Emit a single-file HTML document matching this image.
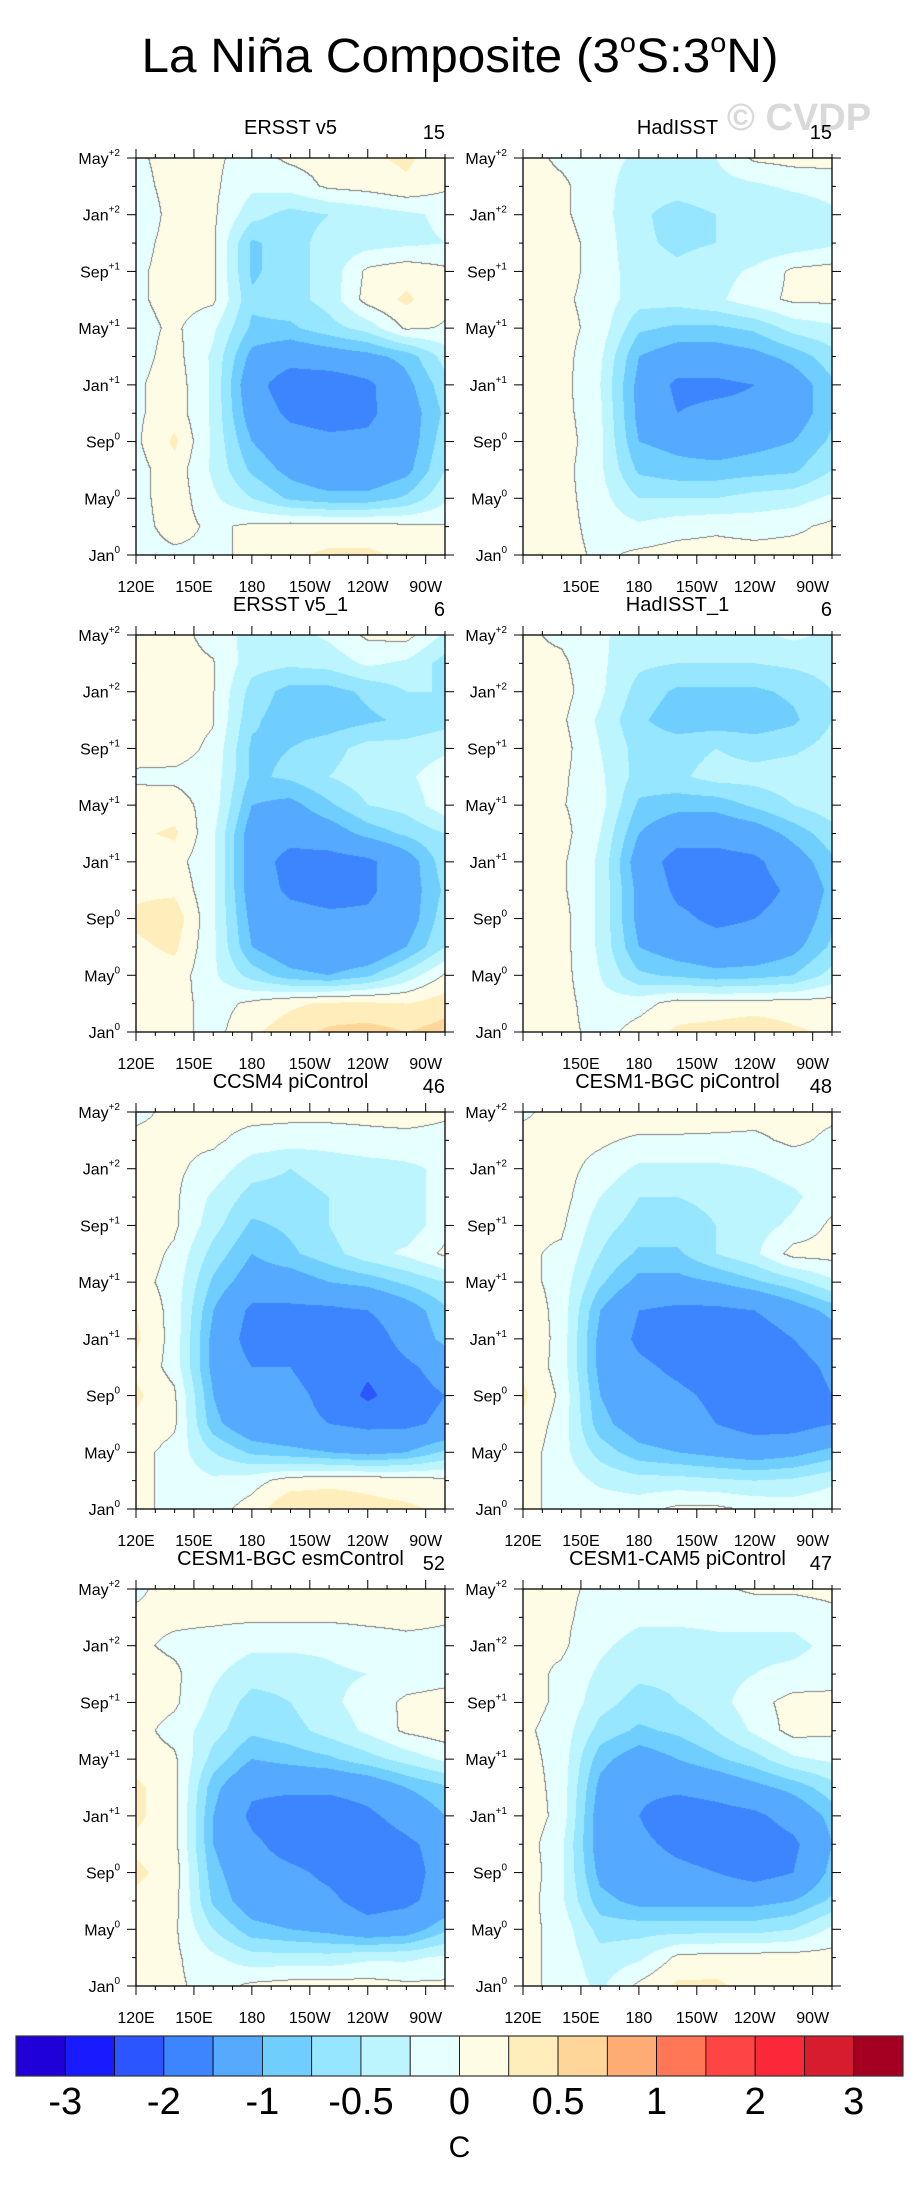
<!DOCTYPE html>
<html><head><meta charset="utf-8">
<style>
html,body{margin:0;padding:0;background:#fff;}
#wrap{position:relative;width:918px;height:2186px;overflow:hidden;font-family:"Liberation Sans",sans-serif;}
canvas{position:absolute;}
svg{position:absolute;left:0;top:0;}
</style></head>
<body>
<div id="wrap">
<svg id="svg" width="918" height="2186">
<text x="460" y="72" font-size="48" text-anchor="middle" textLength="637" lengthAdjust="spacingAndGlyphs" fill="#000">La Niña Composite (3<tspan font-size="28" dy="-20">o</tspan><tspan dy="20">S:3</tspan><tspan font-size="28" dy="-20">o</tspan><tspan dy="20">N)</tspan></text>
<text x="799" y="130" font-size="38" font-weight="bold" text-anchor="middle" fill="#d9d9d9">© CVDP</text>
</svg>
</div>
<script>
// ---- Data: rows = months 0,2,...,28 (Jan0 .. May+2); columns = lon 120,140,...,280 ----
const lons = [120,140,160,180,200,220,240,260,280];
const months = [0,2,4,6,8,10,12,14,16,18,20,22,24,26,28];
const levels = [-3,-2.5,-2,-1.5,-1,-0.75,-0.5,-0.25,0,0.25,0.5,0.75,1,1.5,2,2.5,3];
const levelLabels = ["-3","-2","-1","-0.5","0","0.5","1","2","3"];
const palette = ["#2000d8","#1a1aff","#2a55ff","#3d85ff","#55aaff","#70ceff","#96e6ff","#bdf5ff","#e6ffff","#fffce6","#ffeebb","#ffd699","#ffab73","#ff7755","#ff4444","#fa2838","#d81c30","#a50021"];
const titles = ["ERSST v5","HadISST","ERSST v5_1","HadISST_1","CCSM4 piControl","CESM1-BGC piControl","CESM1-BGC esmControl","CESM1-CAM5 piControl"];
const counts = ["15","15","6","6","46","48","52","47"];
const yLabels = [["Jan","0"],["May","0"],["Sep","0"],["Jan","+1"],["May","+1"],["Sep","+1"],["Jan","+2"],["May","+2"]];
const xTickLons = [120,150,180,210,240,270];
const xTickLabels = ["120E","150E","180","150W","120W","90W"];

const ersst = [
[-0.1,-0.05,-0.05,0.05,0.2,0.3,0.3,0.2,0.2],
[-0.1,0.1,-0.05,0.05,0.1,0.1,0.1,0.05,0.02],
[-0.1,0.15,-0.2,-0.5,-0.8,-0.9,-0.9,-0.7,-0.3],
[-0.1,0.15,-0.3,-0.8,-1.1,-1.3,-1.3,-1.1,-0.5],
[-0.05,0.3,-0.3,-1.0,-1.3,-1.4,-1.4,-1.2,-0.6],
[-0.05,0.15,-0.3,-1.2,-1.6,-1.7,-1.6,-1.2,-0.7],
[-0.05,0.15,-0.3,-1.3,-1.8,-1.8,-1.6,-1.1,-0.6],
[-0.1,0.1,-0.3,-1.1,-1.3,-1.2,-1.1,-0.9,-0.4],
[-0.1,0.05,-0.2,-0.8,-0.8,-0.6,-0.4,0.05,-0.02],
[-0.05,0.1,0.05,-0.7,-0.6,-0.4,0.1,0.3,0.05],
[-0.05,0.1,0.05,-0.8,-0.6,-0.4,0.05,0.15,0.05],
[-0.1,0.1,0.05,-0.8,-0.6,-0.4,-0.35,-0.3,-0.25],
[-0.2,0.1,0.05,-0.4,-0.6,-0.5,-0.4,-0.3,-0.2],
[-0.1,0.1,0.05,-0.2,-0.15,0.05,0.1,0.2,0.05],
[-0.05,0.1,0.05,-0.1,0.05,0.1,0.2,0.3,0.1]];
const hadisst = [
[0.1,0.1,-0.05,0.05,0.1,0.1,0.1,0.1,0.1],
[0.1,0.1,-0.1,-0.2,-0.1,-0.05,-0.1,-0.05,0.05],
[0.1,0.1,-0.15,-0.5,-0.5,-0.5,-0.4,-0.35,-0.2],
[0.1,0.1,-0.2,-0.8,-0.9,-0.9,-0.85,-0.8,-0.5],
[0.2,0.15,-0.2,-1.0,-1.1,-1.2,-1.1,-1.0,-0.7],
[0.1,0.1,-0.2,-1.1,-1.5,-1.4,-1.4,-1.2,-0.8],
[0.1,0.1,-0.25,-1.1,-1.6,-1.6,-1.5,-1.2,-0.8],
[0.1,0.1,-0.2,-1.0,-1.2,-1.2,-1.1,-0.9,-0.6],
[0.05,0.1,-0.1,-0.7,-0.8,-0.8,-0.7,-0.4,-0.3],
[0.1,0.05,-0.1,-0.4,-0.4,-0.3,-0.1,0.05,0.05],
[0.1,0.1,-0.1,-0.4,-0.45,-0.35,-0.2,0.05,0.1],
[0.1,0.1,-0.1,-0.45,-0.55,-0.5,-0.45,-0.4,-0.3],
[0.1,0.05,-0.15,-0.45,-0.6,-0.5,-0.5,-0.45,-0.3],
[0.1,0.05,-0.15,-0.4,-0.4,-0.35,-0.3,-0.2,-0.15],
[0.1,-0.05,-0.15,-0.3,-0.35,-0.25,0.05,0.1,0.1]];
const ersst1 = [
[0.2,0.1,-0.1,0.2,0.4,0.55,0.6,0.5,0.6],
[0.15,0.1,-0.1,0.05,0.2,0.3,0.3,0.25,0.4],
[0.1,0.15,-0.2,-0.6,-0.9,-1.0,-0.8,-0.4,0.02],
[0.2,0.3,-0.2,-1.0,-1.3,-1.4,-1.4,-1.0,-0.5],
[0.3,0.4,-0.2,-1.1,-1.3,-1.4,-1.4,-1.2,-0.6],
[0.2,0.2,-0.2,-1.2,-1.6,-1.7,-1.6,-1.2,-0.7],
[0.05,0.1,-0.2,-1.2,-1.7,-1.7,-1.6,-1.2,-0.6],
[0.2,0.3,-0.2,-1.2,-1.3,-1.2,-0.9,-0.7,-0.5],
[0.05,0.1,-0.1,-1.0,-1.1,-0.8,-0.5,-0.4,-0.1],
[-0.02,-0.05,-0.1,-0.8,-0.7,-0.5,-0.35,-0.3,-0.1],
[0.05,0.1,-0.05,-0.8,-0.75,-0.6,-0.4,-0.4,-0.3],
[0.05,0.1,0.02,-0.7,-0.9,-0.9,-0.8,-0.7,-0.6],
[0.02,0.2,0.02,-0.6,-0.85,-0.85,-0.7,-0.5,-0.5],
[0.02,0.1,0.02,-0.4,-0.45,-0.4,-0.2,-0.3,-0.6],
[0.05,0.1,-0.1,-0.35,-0.35,-0.2,0.05,0.1,-0.3]];
const hadisst1 = [
[0.1,0.1,-0.1,0.1,0.3,0.35,0.45,0.3,0.2],
[0.05,0.1,-0.15,-0.1,0.1,0.1,0.1,0.1,0.1],
[0.1,0.1,-0.25,-0.7,-0.8,-0.9,-0.85,-0.75,-0.4],
[0.1,0.1,-0.3,-1.0,-1.2,-1.3,-1.3,-1.1,-0.7],
[0.2,0.1,-0.3,-1.1,-1.4,-1.6,-1.5,-1.3,-0.8],
[0.1,0.05,-0.3,-1.1,-1.6,-1.7,-1.7,-1.4,-0.9],
[0.1,0.05,-0.3,-1.2,-1.7,-1.7,-1.6,-1.2,-0.8],
[0.1,0.1,-0.25,-1.0,-1.3,-1.3,-1.2,-0.9,-0.6],
[0.05,0.02,-0.15,-0.8,-0.9,-0.9,-0.7,-0.5,-0.35],
[0.05,0.05,-0.2,-0.6,-0.55,-0.4,-0.4,-0.35,-0.3],
[0.05,0.1,-0.25,-0.6,-0.6,-0.5,-0.6,-0.55,-0.4],
[0.1,0.05,-0.3,-0.7,-0.9,-0.9,-0.9,-0.8,-0.5],
[0.15,0.1,-0.2,-0.6,-0.8,-0.8,-0.8,-0.7,-0.5],
[0.05,0.05,-0.2,-0.45,-0.5,-0.5,-0.5,-0.45,-0.4],
[0.05,-0.05,-0.2,-0.4,-0.4,-0.35,-0.3,-0.2,-0.3]];
const ccsm4 = [
[0.1,-0.1,-0.1,0.1,0.5,0.5,0.35,0.3,0.2],
[0.1,-0.1,-0.2,-0.1,0.1,0.15,0.15,0.1,0.05],
[0.1,-0.1,-0.5,-0.8,-0.9,-1.0,-1.1,-1.0,-0.7],
[0.2,0.05,-0.9,-1.3,-1.4,-1.5,-1.6,-1.6,-1.4],
[0.3,0.05,-1.0,-1.5,-1.4,-1.6,-2.1,-1.7,-1.5],
[0.2,-0.1,-1.1,-1.5,-1.5,-1.7,-1.9,-1.6,-1.3],
[0.3,-0.1,-1.1,-1.7,-2.0,-2.0,-1.8,-1.3,-0.9],
[0.25,-0.1,-1.0,-1.6,-1.6,-1.6,-1.5,-1.2,-0.8],
[0.1,-0.1,-0.8,-1.2,-1.2,-1.0,-0.9,-0.7,-0.5],
[0.15,-0.05,-0.6,-1.0,-0.8,-0.6,-0.35,-0.2,0.05],
[0.15,0.05,-0.4,-0.8,-0.7,-0.5,-0.25,-0.4,-0.1],
[0.1,0.05,-0.3,-0.6,-0.6,-0.5,-0.4,-0.3,-0.2],
[0.05,0.05,-0.1,-0.4,-0.5,-0.4,-0.35,-0.3,-0.2],
[0.05,0.05,0.05,-0.1,-0.15,-0.15,-0.1,-0.1,-0.1],
[-0.05,0.05,0.1,0.1,0.1,0.1,0.1,0.15,0.05]];
const cesmBgcPi = [
[0.1,-0.1,-0.1,-0.1,0.05,0.05,-0.05,-0.1,-0.05],
[0.1,-0.1,-0.3,-0.4,-0.4,-0.45,-0.5,-0.45,-0.3],
[0.15,-0.15,-0.6,-0.9,-1.0,-1.1,-1.2,-1.1,-0.9],
[0.2,-0.1,-0.9,-1.2,-1.3,-1.5,-1.7,-1.7,-1.5],
[0.3,-0.05,-1.0,-1.3,-1.4,-1.6,-1.8,-1.8,-1.5],
[0.2,-0.1,-1.1,-1.4,-1.6,-1.8,-1.9,-1.7,-1.4],
[0.25,-0.1,-1.1,-1.6,-1.8,-1.9,-1.8,-1.5,-1.2],
[0.2,-0.1,-1.0,-1.5,-1.6,-1.6,-1.5,-1.2,-0.9],
[0.1,-0.1,-0.7,-1.1,-1.1,-1.0,-0.8,-0.6,-0.3],
[0.05,-0.05,-0.5,-0.8,-0.8,-0.5,-0.3,0.1,0.1],
[0.05,0.05,-0.4,-0.6,-0.6,-0.5,-0.35,-0.2,0.05],
[0.1,0.1,-0.25,-0.5,-0.5,-0.45,-0.4,-0.3,-0.1],
[0.1,0.1,-0.1,-0.3,-0.3,-0.3,-0.25,-0.15,-0.1],
[0.1,0.1,0.05,-0.05,-0.05,-0.05,-0.05,0.05,-0.05],
[-0.05,0.1,0.2,0.2,0.2,0.15,0.1,0.1,0.05]];
const cesmBgcEsm = [
[0.1,0.05,-0.1,0.05,0.1,0.1,0.1,0.05,0.05],
[0.1,0.05,-0.2,-0.4,-0.4,-0.4,-0.3,-0.3,-0.2],
[0.1,0.05,-0.5,-0.9,-1.0,-1.1,-1.3,-1.2,-0.8],
[0.2,0.1,-0.8,-1.2,-1.3,-1.4,-1.7,-1.6,-1.3],
[0.3,0.15,-0.9,-1.3,-1.4,-1.6,-1.8,-1.7,-1.3],
[0.2,0.1,-1.0,-1.4,-1.7,-1.8,-1.8,-1.6,-1.3],
[0.3,0.1,-1.0,-1.6,-1.8,-1.8,-1.6,-1.3,-1.0],
[0.3,0.1,-0.9,-1.4,-1.4,-1.4,-1.3,-1.0,-0.8],
[0.15,0.05,-0.6,-1.0,-0.9,-0.8,-0.6,-0.4,-0.2],
[0.1,-0.1,-0.4,-0.7,-0.6,-0.4,-0.2,0.05,0.15],
[0.15,0.05,-0.3,-0.6,-0.5,-0.3,-0.15,0.05,0.1],
[0.1,0.05,-0.2,-0.4,-0.4,-0.3,-0.25,-0.15,-0.1],
[0.05,-0.05,-0.1,-0.2,-0.2,-0.2,-0.1,-0.05,-0.05],
[0.05,0.05,0.05,0.05,0.05,0.05,0.05,0.05,0.02],
[-0.05,0.1,0.1,0.15,0.15,0.2,0.15,0.1,0.05]];
const cesmCam5 = [
[0.1,-0.1,-0.3,0.05,0.3,0.3,0.15,0.1,0.05],
[0.1,-0.1,-0.4,-0.3,0.05,0.1,0.1,0.1,0.1],
[0.1,-0.1,-0.6,-0.6,-0.6,-0.6,-0.6,-0.5,-0.2],
[0.15,-0.2,-0.9,-1.1,-1.1,-1.1,-1.1,-1.0,-0.7],
[0.2,-0.2,-1.1,-1.3,-1.4,-1.5,-1.7,-1.5,-0.9],
[0.15,-0.2,-1.2,-1.4,-1.6,-1.7,-1.8,-1.6,-1.0],
[0.2,-0.1,-1.2,-1.5,-1.8,-1.7,-1.6,-1.3,-0.9],
[0.15,-0.1,-1.1,-1.4,-1.4,-1.3,-1.1,-0.9,-0.6],
[0.1,-0.1,-0.9,-1.2,-1.0,-0.8,-0.6,-0.3,-0.2],
[0.05,-0.1,-0.6,-0.8,-0.7,-0.5,-0.2,0.1,0.05],
[0.1,-0.05,-0.4,-0.6,-0.5,-0.35,-0.1,0.1,0.1],
[0.1,-0.05,-0.3,-0.45,-0.45,-0.35,-0.25,-0.2,-0.15],
[0.05,0.05,-0.2,-0.35,-0.35,-0.3,-0.3,-0.3,-0.2],
[0.05,0.05,-0.1,-0.2,-0.2,-0.2,-0.2,-0.2,-0.1],
[0.02,0.05,-0.05,-0.1,-0.1,-0.05,0.05,0.05,0.1]];
const fields = [ersst,hadisst,ersst1,hadisst1,ccsm4,cesmBgcPi,cesmBgcEsm,cesmCam5];

// ---- layout ----
const W = 309, H = 397;
const colX = [136, 523];
const rowY = [158, 635, 1112, 1589];
const LON0 = 120, LON1 = 280, M0 = 0, M1 = 28;
const svg = document.getElementById('svg');
const wrap = document.getElementById('wrap');
const NS = 'http://www.w3.org/2000/svg';
function mk(tag, attrs, parent){const e=document.createElementNS(NS,tag);for(const k in attrs)e.setAttribute(k,attrs[k]);(parent||svg).appendChild(e);return e;}
function xScale(px, lon){return px + (lon-LON0)/(LON1-LON0)*W;}
function yScale(py, m){return py + H*(1-(m-M0)/(M1-M0));}
function levelIndex(v){let i=0;while(i<levels.length && v>=levels[i])i++;return i;}
function hex(c){return [parseInt(c.slice(1,3),16),parseInt(c.slice(3,5),16),parseInt(c.slice(5,7),16)];}
const palRGB = palette.map(hex);
function sample(f, lon, m){
  const cx=(lon-lons[0])/(lons[1]-lons[0]), cy=(m-months[0])/(months[1]-months[0]);
  const i0=Math.max(0,Math.min(lons.length-2,Math.floor(cx))), j0=Math.max(0,Math.min(months.length-2,Math.floor(cy)));
  const tx=cx-i0, ty=cy-j0;
  const a=f[j0][i0], b=f[j0][i0+1], c=f[j0+1][i0], d=f[j0+1][i0+1];
  return (a*(1-tx)+b*tx)*(1-ty)+(c*(1-tx)+d*tx)*ty;
}

fields.forEach((f, p)=>{
  const col=p%2, row=Math.floor(p/2);
  const px=colX[col], py=rowY[row];
  const cv=document.createElement('canvas');
  cv.width=W; cv.height=H;
  cv.style.left=px+'px'; cv.style.top=py+'px';
  
  
  wrap.insertBefore(cv, svg);
  const ctx=cv.getContext('2d');
  const img=ctx.createImageData(W,H);
  const vals=new Float32Array(W*H);
  for(let y=0;y<H;y++){for(let x=0;x<W;x++){
    const lon=LON0+(x+0.5)/W*(LON1-LON0), m=M1-(y+0.5)/H*(M1-M0);
    vals[y*W+x]=sample(f,lon,m);
  }}
  for(let y=0;y<H;y++){for(let x=0;x<W;x++){
    const v=vals[y*W+x];
    let c=palRGB[levelIndex(v)];
    const s=v>=0;
    if((x<W-1 && (vals[y*W+x+1]>=0)!==s)||(y<H-1 && (vals[(y+1)*W+x]>=0)!==s)) c=[128,128,128];
    const k=(y*W+x)*4; img.data[k]=c[0];img.data[k+1]=c[1];img.data[k+2]=c[2];img.data[k+3]=255;
  }}
  ctx.putImageData(img,0,0);

  const g=mk('g',{});
  
  
  const fr=mk('rect',{x:px,y:py,width:W,height:H,fill:'none',stroke:'#000','stroke-width':1.3},g);
  
  
  for(let m=0;m<=28;m+=2){
    const yy=yScale(py,m), major=(m%4===0), L=major?9:4;
    mk('line',{x1:px-L,x2:px,y1:yy,y2:yy,stroke:'#000','stroke-width':1},g);
    mk('line',{x1:px+W,x2:px+W+L,y1:yy,y2:yy,stroke:'#000','stroke-width':1},g);
  }
  yLabels.forEach((lb,i)=>{
    const yy=yScale(py,i*4);
    const t=mk('text',{x:px-16,y:yy+6,'font-size':16,'text-anchor':'end',fill:'#000'},g);
    
    
    t.textContent=lb[0];
    const s=mk('tspan',{'font-size':10,dy:-8},t); s.textContent=lb[1];
  });
  for(let lon=120;lon<=280;lon+=10){
    const xx=xScale(px,lon), major=((lon-120)%30===0), L=major?9:4;
    mk('line',{x1:xx,x2:xx,y1:py-L,y2:py,stroke:'#000','stroke-width':1},g);
    mk('line',{x1:xx,x2:xx,y1:py+H,y2:py+H+L,stroke:'#000','stroke-width':1},g);
  }
  xTickLons.forEach((lon,i)=>{
    if(col===1 && row<2 && i===0) return;
    const t=mk('text',{x:xScale(px,lon),y:py+H+37,'font-size':16,'text-anchor':'middle',fill:'#000'},g);
    
    
    t.textContent=xTickLabels[i];
  });
  const tt=mk('text',{x:px+W/2,y:py-24,'font-size':20,'text-anchor':'middle',fill:'#000'},g);
  
  
  tt.textContent=titles[p];
  const tc=mk('text',{x:px+W,y:py-19,'font-size':20,'text-anchor':'end',fill:'#000'},g);
  
  
  tc.textContent=counts[p];
});

// ---- colorbar ----
const cbX0=16, cbX1=903, cbY=2036, cbH=40;
const cbG=mk('g',{});


const bw=(cbX1-cbX0)/palette.length;
palette.forEach((c,i)=>{
  const r=mk('rect',{x:cbX0+i*bw,y:cbY,width:bw,height:cbH,fill:c,stroke:'#000','stroke-width':0.8},cbG);
  
  
});
mk('rect',{x:cbX0,y:cbY,width:cbX1-cbX0,height:cbH,fill:'none',stroke:'#333','stroke-width':1.2},cbG);
levelLabels.forEach((lb,i)=>{
  const t=mk('text',{x:cbX0+(1+2*i)*bw,y:2114,'font-size':38,'text-anchor':'middle',fill:'#000'},cbG);
  
  
  t.textContent=lb;
});
const unit=mk('text',{x:(cbX0+cbX1)/2,y:2157,'font-size':30,'text-anchor':'middle',fill:'#000'},cbG);


unit.textContent='C';
</script>
</body></html>
